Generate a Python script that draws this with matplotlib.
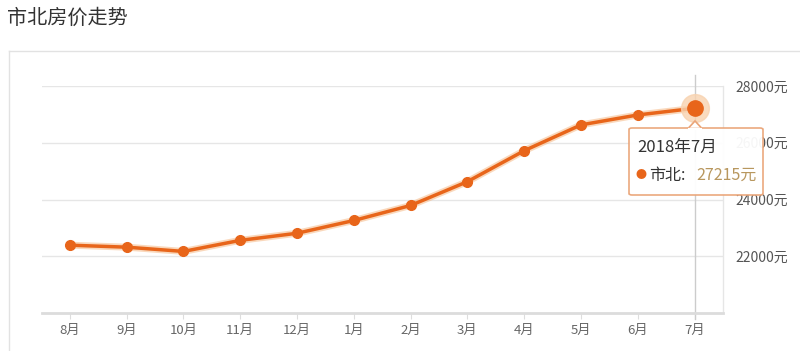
import matplotlib
matplotlib.use('Agg')
import matplotlib.pyplot as plt
from matplotlib.patches import FancyBboxPatch, Polygon
from matplotlib.lines import Line2D

plt.rcParams['font.family'] = ['Noto Sans CJK SC', 'DejaVu Sans']

# 数据
meses = ['8月', '9月', '10月', '11月', '12月', '1月', '2月', '3月', '4月', '5月', '6月', '7月']
precos = [22390, 22320, 22170, 22560, 22810, 23260, 23790, 24630, 25720, 26630, 26980, 27215]
y_ticks = [22000, 24000, 26000, 28000]
y_labels = ['22000元', '24000元', '26000元', '28000元']

laranja = '#e8651a'

fig = plt.figure(figsize=(8, 3.51), dpi=100)
W, H = 800, 351

def fx(px):
    return px / W

def fy(py):
    return 1 - py / H

# painel externo
fig.add_artist(Line2D([fx(8.5), fx(8.5)], [fy(51), 0], color='#e2e2e2', lw=1))
fig.add_artist(Line2D([fx(8.5), 1], [fy(51), fy(51)], color='#e2e2e2', lw=1))

fig.text(fx(7), fy(18), '市北房价走势', fontsize=14.5, color='#333333', va='center', ha='left')

ax = fig.add_axes([fx(42), fy(313), fx(723 - 42), (313 - 86) / H])
x = list(range(len(meses)))
ax.set_xlim(-0.49, 11.5)
ax.set_ylim(20000, 28000)

for v in y_ticks:
    ax.axhline(v, color='#e6e6e6', lw=1, zorder=1)

for s in ['top', 'left']:
    ax.spines[s].set_visible(False)
ax.spines['bottom'].set_color('#dcdcdc')
ax.spines['bottom'].set_linewidth(2)
ax.spines['right'].set_color('#e6e6e6')
ax.spines['right'].set_linewidth(1)

ax.set_xticks(x)
ax.set_xticklabels(meses, fontsize=9.5, color='#666666')
ax.tick_params(axis='x', length=4, color='#dddddd', pad=4)
ax.yaxis.tick_right()
ax.set_yticks(y_ticks)
ax.set_yticklabels(y_labels, fontsize=10, color='#555555')
ax.tick_params(axis='y', length=0, pad=9)

# linha vertical do cursor
ax.plot([x[-1], x[-1]], [19800, 28400], color='#cccccc', lw=1, zorder=2, clip_on=False)

ax.plot(x, precos, color='#f5b27a', lw=5, alpha=0.5, zorder=3, solid_capstyle='round')
ax.plot(x[:-1], precos[:-1], color=laranja, lw=2.5, marker='o', markersize=7, zorder=4)
ax.plot(x[-2:], precos[-2:], color=laranja, lw=2.5, zorder=4)
ax.plot(x[-1], precos[-1], 'o', color='#f8d3b0', markersize=20, alpha=0.8, zorder=5)
ax.plot(x[-1], precos[-1], 'o', color=laranja, markersize=11, zorder=6)

# tooltip
tx0, ty0, tw, th = 629, 128, 134, 67
box = FancyBboxPatch((fx(tx0), fy(ty0 + th)), fx(tw), th / H,
                     boxstyle='round,pad=0,rounding_size=0.004',
                     transform=fig.transFigure, facecolor='white',
                     edgecolor='#eaa477', lw=1.2, zorder=10, alpha=0.95)
fig.add_artist(box)
tri = Polygon([[fx(688), fy(128.5)], [fx(695), fy(121)], [fx(702), fy(128.5)]],
              closed=True, transform=fig.transFigure, facecolor='white',
              edgecolor='#eaa477', lw=1.2, zorder=11)
fig.add_artist(tri)
fig.add_artist(Line2D([fx(689), fx(701)], [fy(128.6), fy(128.6)], color='white', lw=1.6, zorder=12))

fig.text(fx(637), fy(147), '2018年7月', fontsize=12, color='#333333', va='center', ha='left', zorder=13)
fig.text(fx(641), fy(175), '●', fontsize=8, color=laranja, va='center', ha='center', zorder=13)
fig.text(fx(649), fy(175), '市北:', fontsize=11.5, color='#333333', va='center', ha='left', zorder=13)
fig.text(fx(696), fy(175), '27215元', fontsize=11.5, color='#b8975e', va='center', ha='left', zorder=13)

fig.savefig('out.png', dpi=100, facecolor='white')
